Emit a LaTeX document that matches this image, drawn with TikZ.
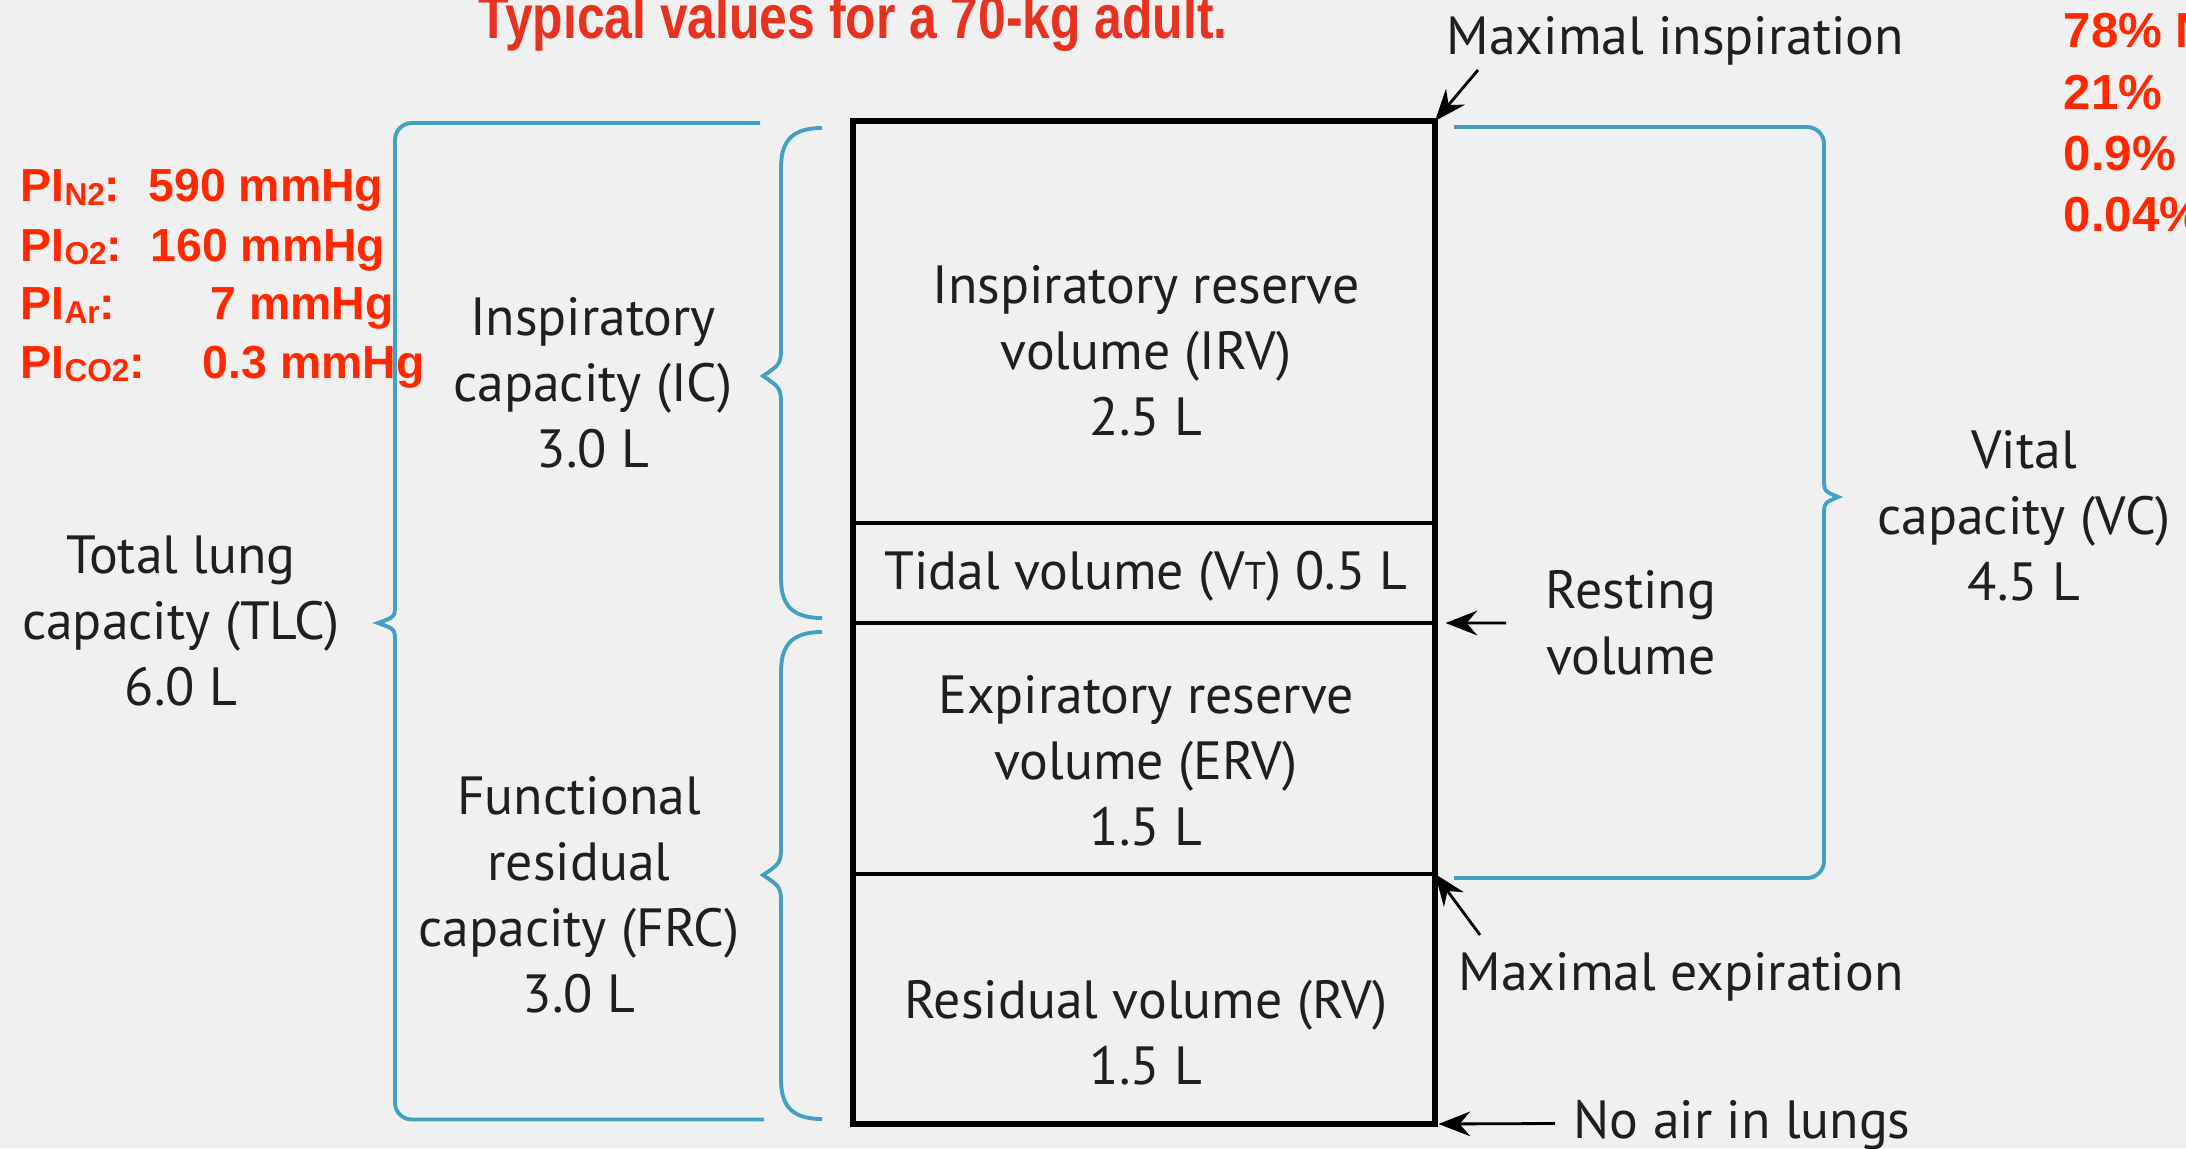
\documentclass[tikz,border=0pt]{standalone}
\usepackage{fontspec}
\setmainfont{PT Sans}
\newfontfamily\arialfont{Liberation Sans}
\usepackage{tikz}
\usetikzlibrary{arrows.meta, positioning}

\definecolor{paper}{HTML}{F0F0F0}
\definecolor{alertred}{RGB}{255,40,0}
\definecolor{titlered}{RGB}{230,50,30}
\definecolor{bracecyan}{RGB}{66,160,194}

\newcommand{\gassub}[1]{\raisebox{-1pt}{\fontsize{9}{9}\selectfont #1}}

\begin{document}
\begin{tikzpicture}[
        volbox/.style={draw, line width=0.9pt, minimum width=5.82cm, outer sep=0pt, inner sep=0pt},
        lbl/.style={align=center, text=black!88, font=\fontsize{15.3}{18.8}\selectfont, inner sep=0pt},
        redlbl/.style={anchor=base west, text=alertred, inner sep=0pt, font=\arialfont\bfseries\fontsize{13.2}{15}\selectfont},
        pctlbl/.style={anchor=base west, text=alertred, inner sep=0pt, font=\arialfont\bfseries\fontsize{14}{16}\selectfont},
        bracket/.style={draw=bracecyan, line width=1.1pt},
        pointer/.style={-{Stealth[length=9pt, width=7pt, inset=3pt]}, line width=0.8pt}
    ]

    \fill[paper] (0,0) rectangle (21.86,11.48);
    \useasboundingbox (0,0) rectangle (21.86,11.48);
    \clip (0,0) rectangle (21.86,11.48);

    % title and gas notes
    \node (title) [anchor=base, text=titlered, inner sep=0pt, font=\arialfont\bfseries\fontsize{17.5}{19}\selectfont] at (8.53,11.09) {\scalebox{0.81}[1]{Typical values for a 70-kg adult.}};

    \node (pin2) [redlbl] at (0.20,9.46) {PI\gassub{N2}:};
    \node (pin2val) [redlbl] at (1.48,9.46) {590 mmHg};
    \node (pio2) [redlbl] at (0.20,8.87) {PI\gassub{O2}:};
    \node (pio2val) [redlbl] at (1.50,8.87) {160 mmHg};
    \node (piar) [redlbl] at (0.20,8.28) {PI\gassub{Ar}:};
    \node (piarval) [redlbl] at (2.10,8.28) {7 mmHg};
    \node (pico2) [redlbl] at (0.20,7.70) {PI\gassub{CO2}:};
    \node (pico2val) [redlbl] at (2.02,7.70) {0.3 mmHg};

    \node (pctn2) [pctlbl] at (20.63,11.00) {78\% N};
    \node (pcto2) [pctlbl] at (20.63,10.38) {21\%};
    \node (pctar) [pctlbl] at (20.63,9.77) {0.9\%};
    \node (pctco2) [pctlbl] at (20.63,9.16) {0.04\%};

    % the volume column
    \node (irv) [volbox, minimum height=4.02cm] at (11.44,8.26) {};
    \node (tidal) [volbox, minimum height=1.0cm, below=0pt of irv] {};
    \node (erv) [volbox, minimum height=2.51cm, below=0pt of tidal] {};
    \node (rv) [volbox, minimum height=2.50cm, below=0pt of erv] {};
    \draw[line width=1.5pt] (irv.north west) rectangle (rv.south east);

    \node (irvtext) [lbl] at (11.46,7.97) {Inspiratory reserve\\volume (IRV)\\2.5 L};
    \node (tidaltext) [lbl] at (11.46,5.72) {Tidal volume (V{\fontsize{11}{11}\selectfont T}) 0.5 L};
    \node (ervtext) [lbl] at (11.46,3.87) {Expiratory reserve\\volume (ERV)\\1.5 L};
    \node (rvtext) [lbl] at (11.46,1.15) {Residual volume (RV)\\1.5 L};

    % capacities
    \node (tlc) [lbl] at (1.81,5.27) {Total lung\\capacity (TLC)\\6.0 L};
    \node (ic) [lbl] at (5.93,7.65) {Inspiratory\\capacity (IC)\\3.0 L};
    \node (frc) [lbl] at (5.79,2.53) {Functional\\residual\\capacity (FRC)\\3.0 L};
    \node (vc) [lbl] at (20.24,6.32) {Vital\\capacity (VC)\\4.5 L};

    \draw[bracket] (7.60,10.25) -- (4.12,10.25) to[out=180,in=90] (3.95,10.08)
        -- (3.95,5.44) .. controls (3.95,5.31) .. (3.78,5.25) .. controls (3.95,5.19) .. (3.95,5.06)
        -- (3.95,0.45) to[out=-90,in=180] (4.12,0.285) -- (7.64,0.285);
    \draw[bracket] (8.22,10.20) .. controls (7.90,10.20) and (7.81,10.05) .. (7.81,9.80)
        -- (7.81,8.04) .. controls (7.81,7.84) .. (7.63,7.72) .. controls (7.81,7.60) .. (7.81,7.40)
        -- (7.81,5.70) .. controls (7.81,5.45) and (7.90,5.30) .. (8.22,5.30);
    \draw[bracket] (8.22,5.16) .. controls (7.90,5.16) and (7.81,5.01) .. (7.81,4.76)
        -- (7.81,3.05) .. controls (7.81,2.85) .. (7.63,2.73) .. controls (7.81,2.61) .. (7.81,2.41)
        -- (7.81,0.69) .. controls (7.81,0.44) and (7.90,0.29) .. (8.22,0.29);
    \draw[bracket] (14.54,10.21) -- (18.07,10.21) to[out=0,in=90] (18.24,10.04)
        -- (18.24,6.70) .. controls (18.24,6.57) .. (18.38,6.51) .. controls (18.24,6.45) .. (18.24,6.32)
        -- (18.24,2.87) to[out=-90,in=0] (18.07,2.70) -- (14.54,2.70);

    % markers on the right
    \node (maxinsp) [lbl, anchor=base west] at (14.46,10.93) {Maximal inspiration};
    \node (resting) [lbl] at (16.31,5.25) {Resting\\volume};
    \node (maxexp) [lbl, anchor=base west] at (14.58,1.58) {Maximal expiration};
    \node (noair) [lbl, anchor=base west] at (15.73,0.10) {No air in lungs};

    \coordinate (insptail) at (14.78,10.78);
    \coordinate (resttail) at (15.06,5.25);
    \coordinate (exptail) at (14.80,2.13);
    \coordinate (noairtail) at (15.55,0.245);

    \draw[pointer] (insptail) -- (irv.north east);
    \draw[pointer, shorten >=3pt] (resttail) -- (tidal.south east);
    \draw[pointer] (exptail) -- (erv.south east);
    \draw[pointer, shorten >=1pt] (noairtail) -- (rv.south east);
\end{tikzpicture}
\end{document}
